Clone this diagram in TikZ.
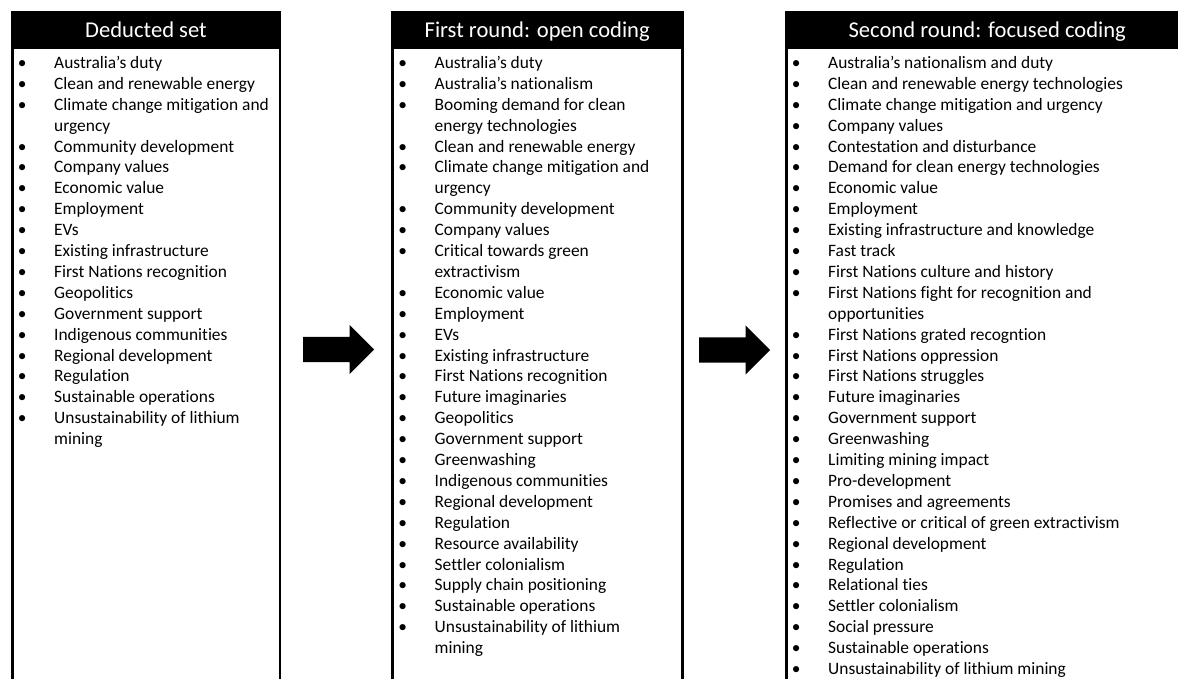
\documentclass[tikz,border=0pt]{standalone}
\usepackage{fontspec}
\setmainfont[Ligatures=NoCommon]{Carlito}
\usetikzlibrary{shapes.arrows}

% bullet centred on the column start, text 32pt further right
\newcommand\bl{\makebox[32pt][l]{\makebox[0pt]{\textbullet}}}
\newcommand\cont{\hspace*{32pt}}

\tikzset{
  header/.style={draw=black, fill=black, line width=2.5pt, text=white,
    font=\fontsize{22.6}{26}\selectfont, minimum height=33pt, inner sep=0pt,
    text height=21pt, text depth=3pt, anchor=north west},
  panel/.style={draw=black, line width=2.5pt, anchor=north west,
    minimum height=700pt, inner sep=0pt},
  itemlist/.style={anchor=base west, inner sep=0pt,
    font=\fontsize{17.4}{20.9}\selectfont},
  blockarrow/.style={single arrow, fill=black, draw=none, inner sep=0pt,
    minimum height=71pt, single arrow head extend=12pt, anchor=tail}
}

\begin{document}
\begin{tikzpicture}[x=1pt,y=-1pt]
\useasboundingbox (0,0) rectangle (1178,679);
\clip (0,0) rectangle (1178,679);

% column 1
\node[header, minimum width=267.5pt] (h1) at (11,11) {Deducted set};
\node[panel, minimum width=267.5pt] (p1) at (h1.south west) {};
\node[itemlist] (l1) at (22,68.5) {\begin{tabular}[t]{@{}l@{}}
\bl Australia’s duty\\
\bl Clean and renewable energy\\
\bl Climate change mitigation and\\
\cont urgency\\
\bl Community development\\
\bl Company values\\
\bl Economic value\\
\bl Employment\\
\bl EVs\\
\bl Existing infrastructure\\
\bl First Nations recognition\\
\bl Geopolitics\\
\bl Government support\\
\bl Indigenous communities\\
\bl Regional development\\
\bl Regulation\\
\bl Sustainable operations\\
\bl Unsustainability of lithium\\
\cont mining
\end{tabular}};

% column 2
\node[header, minimum width=290pt] (h2) at (391,11) {First round: open coding};
\node[panel, minimum width=290pt] (p2) at (h2.south west) {};
\node[itemlist] (l2) at (402.5,68.5) {\begin{tabular}[t]{@{}l@{}}
\bl Australia’s duty\\
\bl Australia’s nationalism\\
\bl Booming demand for clean\\
\cont energy technologies\\
\bl Clean and renewable energy\\
\bl Climate change mitigation and\\
\cont urgency\\
\bl Community development\\
\bl Company values\\
\bl Critical towards green\\
\cont extractivism\\
\bl Economic value\\
\bl Employment\\
\bl EVs\\
\bl Existing infrastructure\\
\bl First Nations recognition\\
\bl Future imaginaries\\
\bl Geopolitics\\
\bl Government support\\
\bl Greenwashing\\
\bl Indigenous communities\\
\bl Regional development\\
\bl Regulation\\
\bl Resource availability\\
\bl Settler colonialism\\
\bl Supply chain positioning\\
\bl Sustainable operations\\
\bl Unsustainability of lithium\\
\cont mining
\end{tabular}};

% column 3
\node[header, minimum width=402pt] (h3) at (785,11) {Second round: focused coding};
\node[panel, minimum width=402pt] (p3) at (h3.south west) {};
\node[itemlist] (l3) at (796,68.5) {\begin{tabular}[t]{@{}l@{}}
\bl Australia’s nationalism and duty\\
\bl Clean and renewable energy technologies\\
\bl Climate change mitigation and urgency\\
\bl Company values\\
\bl Contestation and disturbance\\
\bl Demand for clean energy technologies\\
\bl Economic value\\
\bl Employment\\
\bl Existing infrastructure and knowledge\\
\bl Fast track\\
\bl First Nations culture and history\\
\bl First Nations fight for recognition and\\
\cont opportunities\\
\bl First Nations grated recogntion\\
\bl First Nations oppression\\
\bl First Nations struggles\\
\bl Future imaginaries\\
\bl Government support\\
\bl Greenwashing\\
\bl Limiting mining impact\\
\bl Pro-development\\
\bl Promises and agreements\\
\bl Reflective or critical of green extractivism\\
\bl Regional development\\
\bl Regulation\\
\bl Relational ties\\
\bl Settler colonialism\\
\bl Social pressure\\
\bl Sustainable operations\\
\bl Unsustainability of lithium mining
\end{tabular}};

% block arrows between the columns
\node[blockarrow] (a1) at (303,349.5) {\rule{0pt}{25pt}};
\node[blockarrow] (a2) at (699,350) {\rule{0pt}{25pt}};
\end{tikzpicture}
\end{document}
